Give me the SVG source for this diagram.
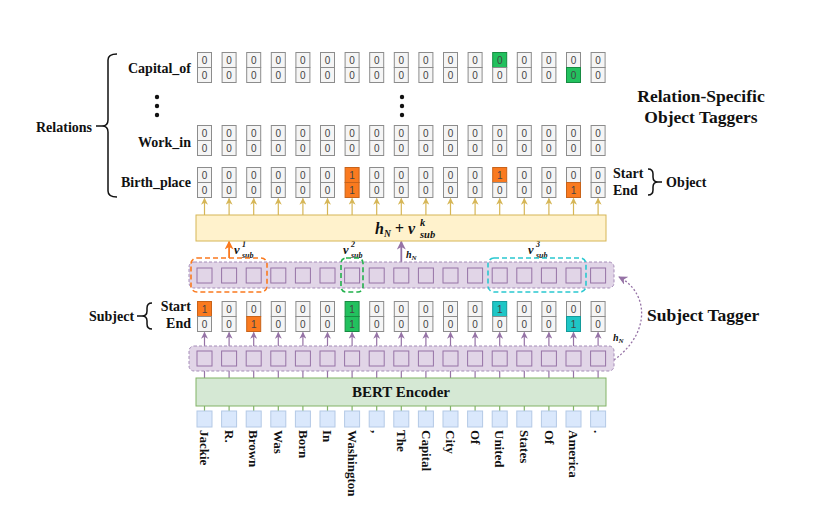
<svg xmlns="http://www.w3.org/2000/svg" width="831" height="519" viewBox="0 0 831 519">
<style>
.c{fill:#f5f5f5;stroke:#8c8c8c;stroke-width:1}
.o{fill:#fa7a1f;stroke:#c8631a;stroke-width:1}
.g{fill:#22c15e;stroke:#178a42;stroke-width:1}
.t{fill:#1ec6c6;stroke:#139a9a;stroke-width:1}
.d text,text.d{font-family:"Liberation Sans",Arial,sans-serif;font-size:10px;fill:#444;text-anchor:middle}
.lb{font-family:"Liberation Serif","Times New Roman",serif;font-weight:bold;font-size:14px;fill:#111}
.big{font-size:17.5px}
.r{text-anchor:end}
.m{font-family:"Liberation Serif","Times New Roman",serif;font-weight:bold;font-style:italic;fill:#111}
.ga{stroke:#d6b656;stroke-width:1.2;marker-end:url(#ag)}
.pa{stroke:#9673a6;stroke-width:1.2;marker-end:url(#ap)}
.pl{stroke:#9673a6;stroke-width:1.2}
.gl{stroke:#82b366;stroke-width:1.2}
.pb{fill:#e1d5e7;stroke:#9673a6;stroke-width:1}
.wb{fill:#dae8fc;stroke:#b4c9e6;stroke-width:1}
.w{font-family:"Liberation Serif","Times New Roman",serif;font-weight:bold;font-size:13px;fill:#111}
.br{fill:none;stroke:#111;stroke-width:1.5}
</style>
<defs>
<marker id="ag" viewBox="0 0 10 10" refX="9" refY="5" markerWidth="7" markerHeight="7" markerUnits="userSpaceOnUse" orient="auto"><path d="M0,0 L10,5 L0,10 L3,5 z" fill="#d6b656"/></marker>
<marker id="ap" viewBox="0 0 10 10" refX="9" refY="5" markerWidth="7" markerHeight="7" markerUnits="userSpaceOnUse" orient="auto"><path d="M0,0 L10,5 L0,10 L3,5 z" fill="#9673a6"/></marker>
<marker id="apb" viewBox="0 0 10 10" refX="9" refY="5" markerWidth="9" markerHeight="9" markerUnits="userSpaceOnUse" orient="auto"><path d="M0,0 L10,5 L0,10 L3,5 z" fill="#9673a6"/></marker>
<marker id="ao" viewBox="0 0 10 10" refX="9" refY="5" markerWidth="9" markerHeight="9" markerUnits="userSpaceOnUse" orient="auto"><path d="M0,0 L10,5 L0,10 L3,5 z" fill="#fa7a1f"/></marker>
</defs>

<!-- Labels -->
<g id="relations-label">
<text class="lb" x="36" y="131.5">Relations</text>
<path class="br" d="M117,54 Q108,54 108,60 L108,120 Q108,126 102,126 L96,126 M102,126 Q108,126 108,132 L108,191 Q108,197 117,197"/>
</g>
<g id="relation-names">
<text class="lb r" x="191" y="73">Capital_of</text>
<text class="lb r" x="191" y="146.5">Work_in</text>
<text class="lb r" x="191" y="187">Birth_place</text>
<circle cx="157" cy="97" r="2.2" fill="#111"/><circle cx="157" cy="106" r="2.2" fill="#111"/><circle cx="157" cy="115" r="2.2" fill="#111"/>
<circle cx="402" cy="97" r="2.2" fill="#111"/><circle cx="402" cy="106" r="2.2" fill="#111"/><circle cx="402" cy="115" r="2.2" fill="#111"/>
</g>
<g id="title-object">
<text class="lb big" x="701" y="101.5" text-anchor="middle">Relation-Specific</text>
<text class="lb big" x="701" y="122.5" text-anchor="middle">Object Taggers</text>
</g>
<g id="object-label">
<text class="lb" x="613" y="178">Start</text>
<text class="lb" x="613" y="195">End</text>
<path class="br" d="M648,169 Q653,169 653,174 L653,177 Q653,182 658,182 L662,182 M658,182 Q653,182 653,187 L653,190 Q653,195 648,195"/>
<text class="lb" x="666" y="187">Object</text>
</g>
<g id="subject-label">
<text class="lb" x="89" y="321">Subject</text>
<path class="br" d="M152,303 Q147,303 147,308 L147,311 Q147,316 142,316 L137,316 M142,316 Q147,316 147,321 L147,324 Q147,329 152,329"/>
<text class="lb r" x="191" y="311">Start</text>
<text class="lb r" x="191" y="328">End</text>
</g>
<g id="title-subject">
<text class="lb big" x="647" y="321">Subject Tagger</text>
</g>

<!-- Connectors -->
<g id="connectors">
<line class="ga" x1="204.5" y1="215" x2="204.5" y2="198.5"/>
<line class="ga" x1="229.1" y1="215" x2="229.1" y2="198.5"/>
<line class="ga" x1="253.7" y1="215" x2="253.7" y2="198.5"/>
<line class="ga" x1="278.3" y1="215" x2="278.3" y2="198.5"/>
<line class="ga" x1="302.9" y1="215" x2="302.9" y2="198.5"/>
<line class="ga" x1="327.5" y1="215" x2="327.5" y2="198.5"/>
<line class="ga" x1="352.1" y1="215" x2="352.1" y2="198.5"/>
<line class="ga" x1="376.7" y1="215" x2="376.7" y2="198.5"/>
<line class="ga" x1="401.3" y1="215" x2="401.3" y2="198.5"/>
<line class="ga" x1="425.9" y1="215" x2="425.9" y2="198.5"/>
<line class="ga" x1="450.5" y1="215" x2="450.5" y2="198.5"/>
<line class="ga" x1="475.1" y1="215" x2="475.1" y2="198.5"/>
<line class="ga" x1="499.7" y1="215" x2="499.7" y2="198.5"/>
<line class="ga" x1="524.3" y1="215" x2="524.3" y2="198.5"/>
<line class="ga" x1="548.9" y1="215" x2="548.9" y2="198.5"/>
<line class="ga" x1="573.5" y1="215" x2="573.5" y2="198.5"/>
<line class="ga" x1="598.1" y1="215" x2="598.1" y2="198.5"/>

<line class="pa" x1="204.5" y1="351" x2="204.5" y2="332.5"/>
<line class="pa" x1="229.1" y1="351" x2="229.1" y2="332.5"/>
<line class="pa" x1="253.7" y1="351" x2="253.7" y2="332.5"/>
<line class="pa" x1="278.3" y1="351" x2="278.3" y2="332.5"/>
<line class="pa" x1="302.9" y1="351" x2="302.9" y2="332.5"/>
<line class="pa" x1="327.5" y1="351" x2="327.5" y2="332.5"/>
<line class="pa" x1="352.1" y1="351" x2="352.1" y2="332.5"/>
<line class="pa" x1="376.7" y1="351" x2="376.7" y2="332.5"/>
<line class="pa" x1="401.3" y1="351" x2="401.3" y2="332.5"/>
<line class="pa" x1="425.9" y1="351" x2="425.9" y2="332.5"/>
<line class="pa" x1="450.5" y1="351" x2="450.5" y2="332.5"/>
<line class="pa" x1="475.1" y1="351" x2="475.1" y2="332.5"/>
<line class="pa" x1="499.7" y1="351" x2="499.7" y2="332.5"/>
<line class="pa" x1="524.3" y1="351" x2="524.3" y2="332.5"/>
<line class="pa" x1="548.9" y1="351" x2="548.9" y2="332.5"/>
<line class="pa" x1="573.5" y1="351" x2="573.5" y2="332.5"/>
<line class="pa" x1="598.1" y1="351" x2="598.1" y2="332.5"/>

<path class="pl" d="M204.5,378V366M229.1,378V366M253.7,378V366M278.3,378V366M302.9,378V366M327.5,378V366M352.1,378V366M376.7,378V366M401.3,378V366M425.9,378V366M450.5,378V366M475.1,378V366M499.7,378V366M524.3,378V366M548.9,378V366M573.5,378V366M598.1,378V366"/>
<path class="gl" d="M204.5,406V411M229.1,406V411M253.7,406V411M278.3,406V411M302.9,406V411M327.5,406V411M352.1,406V411M376.7,406V411M401.3,406V411M425.9,406V411M450.5,406V411M475.1,406V411M499.7,406V411M524.3,406V411M548.9,406V411M573.5,406V411M598.1,406V411"/>

<line x1="229.1" y1="258" x2="229.1" y2="241.5" stroke="#fa7a1f" stroke-width="1.8" marker-end="url(#ao)"/>
<line x1="401.3" y1="262" x2="401.3" y2="241.5" stroke="#9673a6" stroke-width="1.8" marker-end="url(#apb)"/>
<path d="M614,360 C652,332 648,292 619,277" fill="none" stroke="#9673a6" stroke-width="1.3" stroke-dasharray="2,2" marker-end="url(#apb)"/>
<text class="m" x="234" y="254" font-size="12.5">v<tspan x="242" y="247" font-size="8">1</tspan><tspan x="242" y="258" font-size="8">sub</tspan></text>
<text class="m" x="343" y="254" font-size="12.5">v<tspan x="351" y="247" font-size="8">2</tspan><tspan x="351" y="258" font-size="8">sub</tspan></text>
<text class="m" x="528" y="254" font-size="12.5">v<tspan x="536" y="247" font-size="8">3</tspan><tspan x="536" y="258" font-size="8">sub</tspan></text>
<text class="m" x="406" y="258" font-size="10">h<tspan font-size="7" dy="2">N</tspan></text>
<text class="m" x="613" y="341" font-size="10">h<tspan font-size="7" dy="2">N</tspan></text>
</g>

<!-- Object tagger rows -->
<g id="row-capital" class="d" transform="translate(0,52.5)">
<rect class="c" x="197.5" y="0" width="14" height="15"/><rect class="c" x="197.5" y="15" width="14" height="15"/>
<rect class="c" x="222.1" y="0" width="14" height="15"/><rect class="c" x="222.1" y="15" width="14" height="15"/>
<rect class="c" x="246.7" y="0" width="14" height="15"/><rect class="c" x="246.7" y="15" width="14" height="15"/>
<rect class="c" x="271.3" y="0" width="14" height="15"/><rect class="c" x="271.3" y="15" width="14" height="15"/>
<rect class="c" x="295.9" y="0" width="14" height="15"/><rect class="c" x="295.9" y="15" width="14" height="15"/>
<rect class="c" x="320.5" y="0" width="14" height="15"/><rect class="c" x="320.5" y="15" width="14" height="15"/>
<rect class="c" x="345.1" y="0" width="14" height="15"/><rect class="c" x="345.1" y="15" width="14" height="15"/>
<rect class="c" x="369.7" y="0" width="14" height="15"/><rect class="c" x="369.7" y="15" width="14" height="15"/>
<rect class="c" x="394.3" y="0" width="14" height="15"/><rect class="c" x="394.3" y="15" width="14" height="15"/>
<rect class="c" x="418.9" y="0" width="14" height="15"/><rect class="c" x="418.9" y="15" width="14" height="15"/>
<rect class="c" x="443.5" y="0" width="14" height="15"/><rect class="c" x="443.5" y="15" width="14" height="15"/>
<rect class="c" x="468.1" y="0" width="14" height="15"/><rect class="c" x="468.1" y="15" width="14" height="15"/>
<rect class="g" x="492.7" y="0" width="14" height="15"/><rect class="c" x="492.7" y="15" width="14" height="15"/>
<rect class="c" x="517.3" y="0" width="14" height="15"/><rect class="c" x="517.3" y="15" width="14" height="15"/>
<rect class="c" x="541.9" y="0" width="14" height="15"/><rect class="c" x="541.9" y="15" width="14" height="15"/>
<rect class="c" x="566.5" y="0" width="14" height="15"/><rect class="g" x="566.5" y="15" width="14" height="15"/>
<rect class="c" x="591.1" y="0" width="14" height="15"/><rect class="c" x="591.1" y="15" width="14" height="15"/>
<text x="204.5" y="11">0</text><text x="204.5" y="26">0</text>
<text x="229.1" y="11">0</text><text x="229.1" y="26">0</text>
<text x="253.7" y="11">0</text><text x="253.7" y="26">0</text>
<text x="278.3" y="11">0</text><text x="278.3" y="26">0</text>
<text x="302.9" y="11">0</text><text x="302.9" y="26">0</text>
<text x="327.5" y="11">0</text><text x="327.5" y="26">0</text>
<text x="352.1" y="11">0</text><text x="352.1" y="26">0</text>
<text x="376.7" y="11">0</text><text x="376.7" y="26">0</text>
<text x="401.3" y="11">0</text><text x="401.3" y="26">0</text>
<text x="425.9" y="11">0</text><text x="425.9" y="26">0</text>
<text x="450.5" y="11">0</text><text x="450.5" y="26">0</text>
<text x="475.1" y="11">0</text><text x="475.1" y="26">0</text>
<text x="499.7" y="11">0</text><text x="499.7" y="26">0</text>
<text x="524.3" y="11">0</text><text x="524.3" y="26">0</text>
<text x="548.9" y="11">0</text><text x="548.9" y="26">0</text>
<text x="573.5" y="11">0</text><text x="573.5" y="26">0</text>
<text x="598.1" y="11">0</text><text x="598.1" y="26">0</text>
</g>

<g id="row-work" class="d" transform="translate(0,125.5)">
<rect class="c" x="197.5" y="0" width="14" height="15"/><rect class="c" x="197.5" y="15" width="14" height="15"/>
<rect class="c" x="222.1" y="0" width="14" height="15"/><rect class="c" x="222.1" y="15" width="14" height="15"/>
<rect class="c" x="246.7" y="0" width="14" height="15"/><rect class="c" x="246.7" y="15" width="14" height="15"/>
<rect class="c" x="271.3" y="0" width="14" height="15"/><rect class="c" x="271.3" y="15" width="14" height="15"/>
<rect class="c" x="295.9" y="0" width="14" height="15"/><rect class="c" x="295.9" y="15" width="14" height="15"/>
<rect class="c" x="320.5" y="0" width="14" height="15"/><rect class="c" x="320.5" y="15" width="14" height="15"/>
<rect class="c" x="345.1" y="0" width="14" height="15"/><rect class="c" x="345.1" y="15" width="14" height="15"/>
<rect class="c" x="369.7" y="0" width="14" height="15"/><rect class="c" x="369.7" y="15" width="14" height="15"/>
<rect class="c" x="394.3" y="0" width="14" height="15"/><rect class="c" x="394.3" y="15" width="14" height="15"/>
<rect class="c" x="418.9" y="0" width="14" height="15"/><rect class="c" x="418.9" y="15" width="14" height="15"/>
<rect class="c" x="443.5" y="0" width="14" height="15"/><rect class="c" x="443.5" y="15" width="14" height="15"/>
<rect class="c" x="468.1" y="0" width="14" height="15"/><rect class="c" x="468.1" y="15" width="14" height="15"/>
<rect class="c" x="492.7" y="0" width="14" height="15"/><rect class="c" x="492.7" y="15" width="14" height="15"/>
<rect class="c" x="517.3" y="0" width="14" height="15"/><rect class="c" x="517.3" y="15" width="14" height="15"/>
<rect class="c" x="541.9" y="0" width="14" height="15"/><rect class="c" x="541.9" y="15" width="14" height="15"/>
<rect class="c" x="566.5" y="0" width="14" height="15"/><rect class="c" x="566.5" y="15" width="14" height="15"/>
<rect class="c" x="591.1" y="0" width="14" height="15"/><rect class="c" x="591.1" y="15" width="14" height="15"/>
<text x="204.5" y="11">0</text><text x="204.5" y="26">0</text>
<text x="229.1" y="11">0</text><text x="229.1" y="26">0</text>
<text x="253.7" y="11">0</text><text x="253.7" y="26">0</text>
<text x="278.3" y="11">0</text><text x="278.3" y="26">0</text>
<text x="302.9" y="11">0</text><text x="302.9" y="26">0</text>
<text x="327.5" y="11">0</text><text x="327.5" y="26">0</text>
<text x="352.1" y="11">0</text><text x="352.1" y="26">0</text>
<text x="376.7" y="11">0</text><text x="376.7" y="26">0</text>
<text x="401.3" y="11">0</text><text x="401.3" y="26">0</text>
<text x="425.9" y="11">0</text><text x="425.9" y="26">0</text>
<text x="450.5" y="11">0</text><text x="450.5" y="26">0</text>
<text x="475.1" y="11">0</text><text x="475.1" y="26">0</text>
<text x="499.7" y="11">0</text><text x="499.7" y="26">0</text>
<text x="524.3" y="11">0</text><text x="524.3" y="26">0</text>
<text x="548.9" y="11">0</text><text x="548.9" y="26">0</text>
<text x="573.5" y="11">0</text><text x="573.5" y="26">0</text>
<text x="598.1" y="11">0</text><text x="598.1" y="26">0</text>
</g>

<g id="row-birth" class="d" transform="translate(0,167.5)">
<rect class="c" x="197.5" y="0" width="14" height="15"/><rect class="c" x="197.5" y="15" width="14" height="15"/>
<rect class="c" x="222.1" y="0" width="14" height="15"/><rect class="c" x="222.1" y="15" width="14" height="15"/>
<rect class="c" x="246.7" y="0" width="14" height="15"/><rect class="c" x="246.7" y="15" width="14" height="15"/>
<rect class="c" x="271.3" y="0" width="14" height="15"/><rect class="c" x="271.3" y="15" width="14" height="15"/>
<rect class="c" x="295.9" y="0" width="14" height="15"/><rect class="c" x="295.9" y="15" width="14" height="15"/>
<rect class="c" x="320.5" y="0" width="14" height="15"/><rect class="c" x="320.5" y="15" width="14" height="15"/>
<rect class="o" x="345.1" y="0" width="14" height="15"/><rect class="o" x="345.1" y="15" width="14" height="15"/>
<rect class="c" x="369.7" y="0" width="14" height="15"/><rect class="c" x="369.7" y="15" width="14" height="15"/>
<rect class="c" x="394.3" y="0" width="14" height="15"/><rect class="c" x="394.3" y="15" width="14" height="15"/>
<rect class="c" x="418.9" y="0" width="14" height="15"/><rect class="c" x="418.9" y="15" width="14" height="15"/>
<rect class="c" x="443.5" y="0" width="14" height="15"/><rect class="c" x="443.5" y="15" width="14" height="15"/>
<rect class="c" x="468.1" y="0" width="14" height="15"/><rect class="c" x="468.1" y="15" width="14" height="15"/>
<rect class="o" x="492.7" y="0" width="14" height="15"/><rect class="c" x="492.7" y="15" width="14" height="15"/>
<rect class="c" x="517.3" y="0" width="14" height="15"/><rect class="c" x="517.3" y="15" width="14" height="15"/>
<rect class="c" x="541.9" y="0" width="14" height="15"/><rect class="c" x="541.9" y="15" width="14" height="15"/>
<rect class="c" x="566.5" y="0" width="14" height="15"/><rect class="o" x="566.5" y="15" width="14" height="15"/>
<rect class="c" x="591.1" y="0" width="14" height="15"/><rect class="c" x="591.1" y="15" width="14" height="15"/>
<text x="204.5" y="11">0</text><text x="204.5" y="26">0</text>
<text x="229.1" y="11">0</text><text x="229.1" y="26">0</text>
<text x="253.7" y="11">0</text><text x="253.7" y="26">0</text>
<text x="278.3" y="11">0</text><text x="278.3" y="26">0</text>
<text x="302.9" y="11">0</text><text x="302.9" y="26">0</text>
<text x="327.5" y="11">0</text><text x="327.5" y="26">0</text>
<text x="352.1" y="11">1</text><text x="352.1" y="26">1</text>
<text x="376.7" y="11">0</text><text x="376.7" y="26">0</text>
<text x="401.3" y="11">0</text><text x="401.3" y="26">0</text>
<text x="425.9" y="11">0</text><text x="425.9" y="26">0</text>
<text x="450.5" y="11">0</text><text x="450.5" y="26">0</text>
<text x="475.1" y="11">0</text><text x="475.1" y="26">0</text>
<text x="499.7" y="11">1</text><text x="499.7" y="26">0</text>
<text x="524.3" y="11">0</text><text x="524.3" y="26">0</text>
<text x="548.9" y="11">0</text><text x="548.9" y="26">0</text>
<text x="573.5" y="11">0</text><text x="573.5" y="26">1</text>
<text x="598.1" y="11">0</text><text x="598.1" y="26">0</text>
</g>

<!-- Fusion box -->
<g id="fusion">
<rect x="196" y="215" width="410" height="26" fill="#fff2cc" stroke="#d6b656" stroke-width="1"/>
<text class="m" x="375" y="233.5" font-size="16">h<tspan font-size="9.5" dy="3">N</tspan><tspan dy="-3"> + v</tspan><tspan x="420" y="225.5" font-size="10.5">k</tspan><tspan x="420" y="238" font-size="10.5">sub</tspan></text>
</g>

<!-- Top hidden-state row -->
<g id="hidden-top">
<rect x="189" y="262" width="425" height="26" rx="5" fill="#e1d5e7" stroke="#a58cb8" stroke-width="1" stroke-dasharray="3,2"/>
<rect class="pb" x="197" y="268" width="15" height="15"/>
<rect class="pb" x="221.6" y="268" width="15" height="15"/>
<rect class="pb" x="246.2" y="268" width="15" height="15"/>
<rect class="pb" x="270.8" y="268" width="15" height="15"/>
<rect class="pb" x="295.4" y="268" width="15" height="15"/>
<rect class="pb" x="320" y="268" width="15" height="15"/>
<rect class="pb" x="344.6" y="268" width="15" height="15"/>
<rect class="pb" x="369.2" y="268" width="15" height="15"/>
<rect class="pb" x="393.8" y="268" width="15" height="15"/>
<rect class="pb" x="418.4" y="268" width="15" height="15"/>
<rect class="pb" x="443" y="268" width="15" height="15"/>
<rect class="pb" x="467.6" y="268" width="15" height="15"/>
<rect class="pb" x="492.2" y="268" width="15" height="15"/>
<rect class="pb" x="516.8" y="268" width="15" height="15"/>
<rect class="pb" x="541.4" y="268" width="15" height="15"/>
<rect class="pb" x="566" y="268" width="15" height="15"/>
<rect class="pb" x="590.6" y="268" width="15" height="15"/>
</g>
<g id="span-1"><rect x="191" y="258" width="76" height="34" rx="6" fill="none" stroke="#fa7a1f" stroke-width="1.6" stroke-dasharray="5,3"/></g>
<g id="span-2"><rect x="341" y="258" width="22" height="34" rx="5" fill="none" stroke="#22b14c" stroke-width="1.6" stroke-dasharray="5,3"/></g>
<g id="span-3"><rect x="488" y="258" width="98" height="34" rx="6" fill="none" stroke="#2ac8d0" stroke-width="1.6" stroke-dasharray="5,3"/></g>

<!-- Subject tagger row -->
<g id="row-subject" class="d" transform="translate(0,301.5)">
<rect class="o" x="197.5" y="0" width="14" height="15"/><rect class="c" x="197.5" y="15" width="14" height="15"/>
<rect class="c" x="222.1" y="0" width="14" height="15"/><rect class="c" x="222.1" y="15" width="14" height="15"/>
<rect class="c" x="246.7" y="0" width="14" height="15"/><rect class="o" x="246.7" y="15" width="14" height="15"/>
<rect class="c" x="271.3" y="0" width="14" height="15"/><rect class="c" x="271.3" y="15" width="14" height="15"/>
<rect class="c" x="295.9" y="0" width="14" height="15"/><rect class="c" x="295.9" y="15" width="14" height="15"/>
<rect class="c" x="320.5" y="0" width="14" height="15"/><rect class="c" x="320.5" y="15" width="14" height="15"/>
<rect class="g" x="345.1" y="0" width="14" height="15"/><rect class="g" x="345.1" y="15" width="14" height="15"/>
<rect class="c" x="369.7" y="0" width="14" height="15"/><rect class="c" x="369.7" y="15" width="14" height="15"/>
<rect class="c" x="394.3" y="0" width="14" height="15"/><rect class="c" x="394.3" y="15" width="14" height="15"/>
<rect class="c" x="418.9" y="0" width="14" height="15"/><rect class="c" x="418.9" y="15" width="14" height="15"/>
<rect class="c" x="443.5" y="0" width="14" height="15"/><rect class="c" x="443.5" y="15" width="14" height="15"/>
<rect class="c" x="468.1" y="0" width="14" height="15"/><rect class="c" x="468.1" y="15" width="14" height="15"/>
<rect class="t" x="492.7" y="0" width="14" height="15"/><rect class="c" x="492.7" y="15" width="14" height="15"/>
<rect class="c" x="517.3" y="0" width="14" height="15"/><rect class="c" x="517.3" y="15" width="14" height="15"/>
<rect class="c" x="541.9" y="0" width="14" height="15"/><rect class="c" x="541.9" y="15" width="14" height="15"/>
<rect class="c" x="566.5" y="0" width="14" height="15"/><rect class="t" x="566.5" y="15" width="14" height="15"/>
<rect class="c" x="591.1" y="0" width="14" height="15"/><rect class="c" x="591.1" y="15" width="14" height="15"/>
<text x="204.5" y="11">1</text><text x="204.5" y="26">0</text>
<text x="229.1" y="11">0</text><text x="229.1" y="26">0</text>
<text x="253.7" y="11">0</text><text x="253.7" y="26">1</text>
<text x="278.3" y="11">0</text><text x="278.3" y="26">0</text>
<text x="302.9" y="11">0</text><text x="302.9" y="26">0</text>
<text x="327.5" y="11">0</text><text x="327.5" y="26">0</text>
<text x="352.1" y="11">1</text><text x="352.1" y="26">1</text>
<text x="376.7" y="11">0</text><text x="376.7" y="26">0</text>
<text x="401.3" y="11">0</text><text x="401.3" y="26">0</text>
<text x="425.9" y="11">0</text><text x="425.9" y="26">0</text>
<text x="450.5" y="11">0</text><text x="450.5" y="26">0</text>
<text x="475.1" y="11">0</text><text x="475.1" y="26">0</text>
<text x="499.7" y="11">1</text><text x="499.7" y="26">0</text>
<text x="524.3" y="11">0</text><text x="524.3" y="26">0</text>
<text x="548.9" y="11">0</text><text x="548.9" y="26">0</text>
<text x="573.5" y="11">0</text><text x="573.5" y="26">1</text>
<text x="598.1" y="11">0</text><text x="598.1" y="26">0</text>
</g>

<!-- Bottom hidden-state row -->
<g id="hidden-bottom">
<rect x="189" y="346" width="425" height="25" rx="5" fill="#e1d5e7" stroke="#a58cb8" stroke-width="1" stroke-dasharray="3,2"/>
<rect class="pb" x="197" y="351" width="15" height="15"/>
<rect class="pb" x="221.6" y="351" width="15" height="15"/>
<rect class="pb" x="246.2" y="351" width="15" height="15"/>
<rect class="pb" x="270.8" y="351" width="15" height="15"/>
<rect class="pb" x="295.4" y="351" width="15" height="15"/>
<rect class="pb" x="320" y="351" width="15" height="15"/>
<rect class="pb" x="344.6" y="351" width="15" height="15"/>
<rect class="pb" x="369.2" y="351" width="15" height="15"/>
<rect class="pb" x="393.8" y="351" width="15" height="15"/>
<rect class="pb" x="418.4" y="351" width="15" height="15"/>
<rect class="pb" x="443" y="351" width="15" height="15"/>
<rect class="pb" x="467.6" y="351" width="15" height="15"/>
<rect class="pb" x="492.2" y="351" width="15" height="15"/>
<rect class="pb" x="516.8" y="351" width="15" height="15"/>
<rect class="pb" x="541.4" y="351" width="15" height="15"/>
<rect class="pb" x="566" y="351" width="15" height="15"/>
<rect class="pb" x="590.6" y="351" width="15" height="15"/>
</g>

<!-- BERT -->
<g id="bert">
<rect x="196" y="378" width="410" height="28" fill="#d5e8d4" stroke="#82b366" stroke-width="1"/>
<text class="lb" x="401" y="397" text-anchor="middle" style="font-size:15px">BERT Encoder</text>
</g>

<!-- Tokens -->
<g id="tokens">
<rect class="wb" x="197" y="411" width="15" height="16"/>
<rect class="wb" x="221.6" y="411" width="15" height="16"/>
<rect class="wb" x="246.2" y="411" width="15" height="16"/>
<rect class="wb" x="270.8" y="411" width="15" height="16"/>
<rect class="wb" x="295.4" y="411" width="15" height="16"/>
<rect class="wb" x="320" y="411" width="15" height="16"/>
<rect class="wb" x="344.6" y="411" width="15" height="16"/>
<rect class="wb" x="369.2" y="411" width="15" height="16"/>
<rect class="wb" x="393.8" y="411" width="15" height="16"/>
<rect class="wb" x="418.4" y="411" width="15" height="16"/>
<rect class="wb" x="443" y="411" width="15" height="16"/>
<rect class="wb" x="467.6" y="411" width="15" height="16"/>
<rect class="wb" x="492.2" y="411" width="15" height="16"/>
<rect class="wb" x="516.8" y="411" width="15" height="16"/>
<rect class="wb" x="541.4" y="411" width="15" height="16"/>
<rect class="wb" x="566" y="411" width="15" height="16"/>
<rect class="wb" x="590.6" y="411" width="15" height="16"/>
<text class="w" transform="translate(200.2,430) rotate(90)">Jackie</text>
<text class="w" transform="translate(224.8,430) rotate(90)">R.</text>
<text class="w" transform="translate(249.4,430) rotate(90)">Brown</text>
<text class="w" transform="translate(274,430) rotate(90)">Was</text>
<text class="w" transform="translate(298.6,430) rotate(90)">Born</text>
<text class="w" transform="translate(323.2,430) rotate(90)">In</text>
<text class="w" transform="translate(347.8,430) rotate(90)">Washington</text>
<text class="w" transform="translate(372.4,430) rotate(90)">,</text>
<text class="w" transform="translate(397,430) rotate(90)">The</text>
<text class="w" transform="translate(421.6,430) rotate(90)">Capital</text>
<text class="w" transform="translate(446.2,430) rotate(90)">City</text>
<text class="w" transform="translate(470.8,430) rotate(90)">Of</text>
<text class="w" transform="translate(495.4,430) rotate(90)">United</text>
<text class="w" transform="translate(520,430) rotate(90)">States</text>
<text class="w" transform="translate(544.6,430) rotate(90)">Of</text>
<text class="w" transform="translate(569.2,430) rotate(90)">America</text>
<text class="w" transform="translate(593.8,430) rotate(90)">.</text>
</g>
</svg>
